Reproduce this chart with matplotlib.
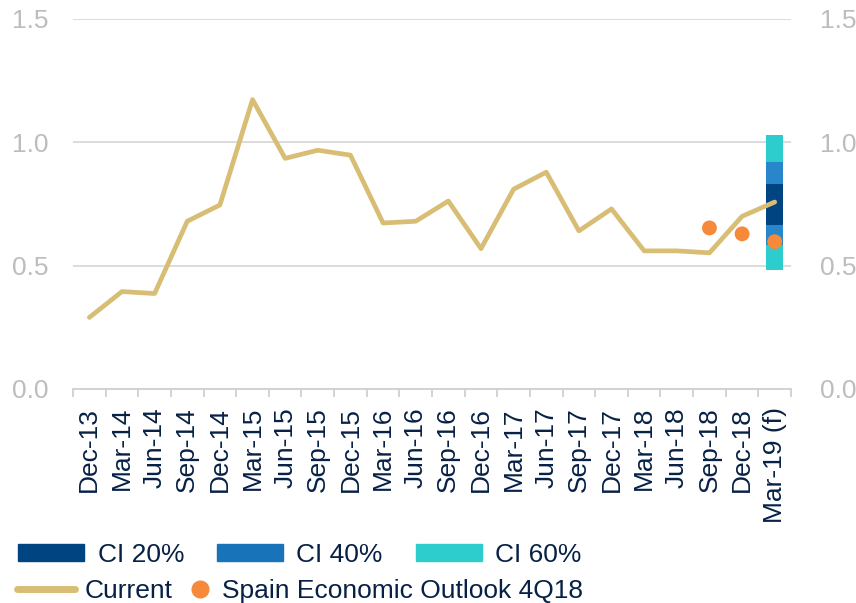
import matplotlib.pyplot as plt
from matplotlib.patches import Patch
from matplotlib.lines import Line2D
import numpy as np

plt.rcParams['font.family'] = ['Liberation Sans', 'DejaVu Sans']

quarters = ['Dec-13', 'Mar-14', 'Jun-14', 'Sep-14', 'Dec-14', 'Mar-15', 'Jun-15',
            'Sep-15', 'Dec-15', 'Mar-16', 'Jun-16', 'Sep-16', 'Dec-16', 'Mar-17',
            'Jun-17', 'Sep-17', 'Dec-17', 'Mar-18', 'Jun-18', 'Sep-18', 'Dec-18',
            'Mar-19 (f)']
current = [0.29, 0.395, 0.387, 0.68, 0.746, 1.173, 0.935, 0.968, 0.948, 0.673,
           0.68, 0.762, 0.569, 0.81, 0.879, 0.641, 0.73, 0.56, 0.56, 0.552,
           0.70, 0.758]
outlook_idx = ['Sep-18', 'Dec-18', 'Mar-19 (f)']
outlook = [0.653, 0.629, 0.597]

# confidence bands for the forecast quarter: (low, high)
ci20 = (0.665, 0.831)
ci40 = (0.585, 0.920)
ci60 = (0.481, 1.028)

navy = '#004481'
blue = '#2A86CA'
aqua = '#2DCCCD'
gold = '#D8BE75'
orange = '#F7893B'
grey_txt = '#BDBDBD'
dark_txt = '#072146'
fs = 19

fig = plt.figure(figsize=(8.56, 6.03), dpi=100)
ax = fig.add_axes([0.0853, 0.3549, 0.8388, 0.6136])

x = np.arange(len(quarters))
xf = x[-1]
w = 0.52
ax.bar(xf, ci60[1] - ci60[0], bottom=ci60[0], width=w, color=aqua, zorder=2)
ax.bar(xf, ci40[1] - ci40[0], bottom=ci40[0], width=w, color=blue, zorder=2)
ax.bar(xf, ci20[1] - ci20[0], bottom=ci20[0], width=w, color=navy, zorder=2)

ax.plot(x, current, color=gold, lw=3.4, zorder=3, solid_capstyle='round')
ox = [quarters.index(q) for q in outlook_idx]
ax.scatter(ox, outlook, s=115, color=orange, zorder=4, edgecolors='none')

yt = [0, 0.5, 1.0, 1.5]
ylab = ['0.0', '0.5', '1.0', '1.5']
ax.set_xlim(-0.5, len(quarters) - 0.5)
ax.set_ylim(0, 1.5)
ax.set_yticks(yt)
ax.set_yticklabels(ylab)
ax.yaxis.grid(True, color='#D9D9D9', lw=1.3, zorder=0)
ax.set_axisbelow(True)
for s in ['top', 'right', 'left']:
    ax.spines[s].set_visible(False)
ax.spines['bottom'].set_color('#D0D0D0')
ax.spines['bottom'].set_linewidth(1.3)

ax.set_xticks(x)
ax.set_xticklabels(quarters, rotation=90, fontsize=fs, color=dark_txt)
ax.set_xticks(np.arange(len(quarters) + 1) - 0.5, minor=True)
ax.tick_params(axis='x', which='major', length=0, pad=13)
ax.tick_params(axis='x', which='minor', length=6, width=1.3, color='#D0D0D0')
ax.tick_params(axis='y', length=0, labelsize=fs, labelcolor=grey_txt, pad=18)

ax2 = ax.twinx()
ax2.set_ylim(0, 1.5)
ax2.set_yticks(yt)
ax2.set_yticklabels(ylab)
for s in ax2.spines.values():
    s.set_visible(False)
ax2.tick_params(axis='y', length=0, labelsize=fs, labelcolor=grey_txt, pad=21)

h1 = [Patch(color=navy), Patch(color='#1973B8'), Patch(color=aqua)]
fig.legend(h1, ['CI 20%', 'CI 40%', 'CI 60%'], ncol=3, frameon=False,
           loc='center left', bbox_to_anchor=(0.0215, 0.0795),
           borderpad=0, borderaxespad=0,
           fontsize=fs, handlelength=2.5, handleheight=0.6,
           columnspacing=1.25, handletextpad=0.5, labelcolor=dark_txt)
fig.legend([Line2D([], [], color=gold, lw=5, solid_capstyle='round')], ['Current'],
           frameon=False, loc='center left', bbox_to_anchor=(0.0199, 0.0195),
           borderpad=0, borderaxespad=0, fontsize=fs, handlelength=2.2,
           handletextpad=0.38, labelcolor=dark_txt)
fig.legend([Line2D([], [], marker='o', ls='none', color=orange, markersize=12)],
           ['Spain Economic Outlook 4Q18'], frameon=False, loc='center left',
           bbox_to_anchor=(0.2214, 0.0195), borderpad=0, borderaxespad=0,
           fontsize=fs, handlelength=0.8, handletextpad=0.42, labelcolor=dark_txt)

fig.savefig('out.png', dpi=100)
